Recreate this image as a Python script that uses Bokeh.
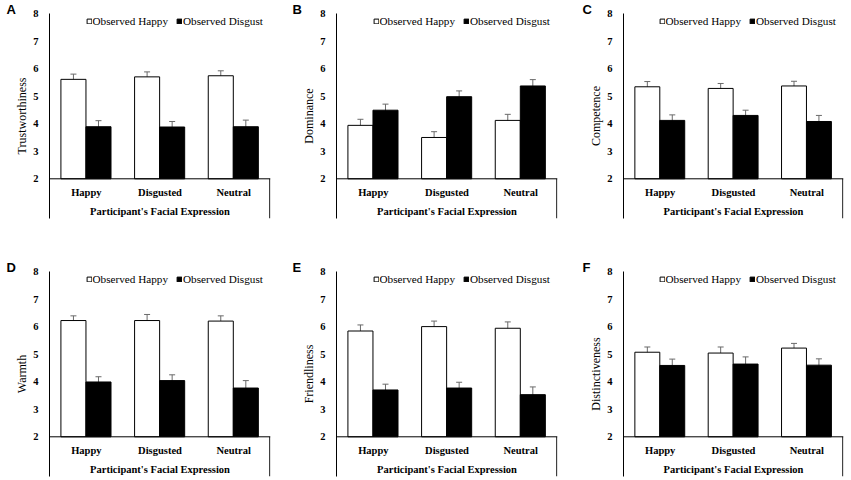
from bokeh.plotting import figure
from bokeh.models import (ColumnDataSource, FactorRange, Range1d, FixedTicker, Span,
                          Whisker, TeeHead, Legend, LegendItem, Title)
from bokeh.transform import dodge
from bokeh.layouts import row, column
from bokeh.embed import file_html
from bokeh.resources import INLINE
from bokeh.core.properties import value

# ---------------- data ----------------
categories = ["Happy", "Disgusted", "Neutral"]
series_names = ["Observed Happy", "Observed Disgust"]
x_title = "Participant's Facial Expression"
y_ticks = [2, 3, 4, 5, 6, 7, 8]
panel_letters = ["A", "B", "C", "D", "E", "F"]
y_titles = ["Trustworthiness", "Dominance", "Competence", "Warmth", "Friendliness", "Distinctiveness"]

trust_happy = [5.61, 5.70, 5.74]
trust_happy_err = [0.19, 0.18, 0.18]
trust_disgust = [3.89, 3.88, 3.89]
trust_disgust_err = [0.22, 0.20, 0.24]

dom_happy = [3.94, 3.50, 4.12]
dom_happy_err = [0.22, 0.21, 0.22]
dom_disgust = [4.49, 4.98, 5.37]
dom_disgust_err = [0.22, 0.21, 0.23]

comp_happy = [5.34, 5.28, 5.37]
comp_happy_err = [0.19, 0.18, 0.17]
comp_disgust = [4.12, 4.30, 4.08]
comp_disgust_err = [0.20, 0.19, 0.22]

warm_happy = [6.22, 6.22, 6.20]
warm_happy_err = [0.17, 0.22, 0.19]
warm_disgust = [3.99, 4.04, 3.77]
warm_disgust_err = [0.19, 0.21, 0.27]

friend_happy = [5.84, 6.00, 5.94]
friend_happy_err = [0.22, 0.20, 0.23]
friend_disgust = [3.70, 3.77, 3.53]
friend_disgust_err = [0.21, 0.21, 0.28]

dist_happy = [5.07, 5.04, 5.22]
dist_happy_err = [0.19, 0.22, 0.17]
dist_disgust = [4.59, 4.64, 4.60]
dist_disgust_err = [0.23, 0.26, 0.23]

panel_data = [
    (trust_happy, trust_happy_err, trust_disgust, trust_disgust_err),
    (dom_happy, dom_happy_err, dom_disgust, dom_disgust_err),
    (comp_happy, comp_happy_err, comp_disgust, comp_disgust_err),
    (warm_happy, warm_happy_err, warm_disgust, warm_disgust_err),
    (friend_happy, friend_happy_err, friend_disgust, friend_disgust_err),
    (dist_happy, dist_happy_err, dist_disgust, dist_disgust_err),
]

# ---------------- layout / style ----------------
SERIF = "Liberation Serif"
SANS = "Liberation Sans"
ERR_COLOR = "#6a6a6a"
FRAME_W = [221, 221, 220]
BORDER_L = [49, 46, 45]
BORDER_R = [20, 21, 8]
LEG_X = [36.5, 36.5, 35.5]
LETTER_OFF = [-43, -44, -41]
FRAME_H = 205
BORDER_T = [13, 31]
BORDER_B = [22, 4]
Y_START = 0.559


def make_panel(i):
    col = i % 3
    rw = i // 3
    bt = BORDER_T[rw]
    bb = BORDER_B[rw]
    h, he, d, de = panel_data[i]
    p = figure(x_range=FactorRange(factors=categories), y_range=Range1d(Y_START, y_ticks[-1]),
               width=BORDER_L[col] + FRAME_W[col] + BORDER_R[col], height=bt + FRAME_H + bb,
               min_border_left=BORDER_L[col], min_border_right=BORDER_R[col],
               min_border_top=bt, min_border_bottom=bb,
               x_axis_location=None, toolbar_location=None, tools="",
               output_backend="svg")
    p.title = Title(text=panel_letters[i], align="left", offset=LETTER_OFF[col], standoff=-7,
                    vertical_align="bottom", text_font=SANS, text_font_style="bold",
                    text_font_size="13px", text_color="black")
    p.xgrid.visible = False
    p.ygrid.visible = False
    p.outline_line_color = None
    p.background_fill_color = "white"
    p.border_fill_color = "white"

    ax = p.yaxis[0]
    ax.ticker = FixedTicker(ticks=y_ticks)
    ax.major_tick_line_color = None
    ax.minor_tick_line_color = None
    ax.major_tick_out = 0
    ax.major_tick_in = 0
    ax.axis_line_color = "black"
    ax.axis_line_width = 1
    ax.major_label_text_font = SERIF
    ax.major_label_text_font_style = "bold"
    ax.major_label_text_font_size = "10.5px"
    ax.major_label_text_color = "black"
    ax.major_label_standoff = 11
    ax.axis_label = y_titles[i]
    ax.axis_label_text_font = SERIF
    ax.axis_label_text_font_style = "normal"
    ax.axis_label_text_font_size = "12px"
    ax.axis_label_text_color = "black"
    ax.axis_label_standoff = 1

    src = ColumnDataSource(dict(
        cat=categories,
        happy=h, happy_lo=[v - e for v, e in zip(h, he)], happy_hi=[v + e for v, e in zip(h, he)],
        disgust=d, disgust_lo=[v - e for v, e in zip(d, de)], disgust_hi=[v + e for v, e in zip(d, de)],
    ))

    r_h = p.vbar(x=dodge("cat", -0.175, range=p.x_range), top="happy", bottom=y_ticks[0], width=0.34,
                 fill_color="white", line_color="black", line_width=1, source=src)
    r_d = p.vbar(x=dodge("cat", 0.165, range=p.x_range), top="disgust", bottom=y_ticks[0], width=0.34,
                 fill_color="black", line_color="black", line_width=1, source=src)

    for off, lo, hi in [(-0.175, "happy_lo", "happy_hi"), (0.165, "disgust_lo", "disgust_hi")]:
        w = Whisker(source=src, base=dodge("cat", off, range=p.x_range), lower=lo, upper=hi,
                    line_color=ERR_COLOR, line_width=1,
                    lower_head=TeeHead(size=6, line_color=ERR_COLOR, line_width=1),
                    upper_head=TeeHead(size=6, line_color=ERR_COLOR, line_width=1))
        p.add_layout(w)

    # category axis box
    p.add_layout(Span(location=y_ticks[0], dimension="width", line_color="black", line_width=1))
    p.segment(x0=[len(categories) - 0.01], x1=[len(categories) - 0.01], y0=[y_ticks[0]], y1=[Y_START],
              line_color="black", line_width=1)

    p.text(x=categories, y=[1.51] * len(categories), text=categories,
           text_font=value(SERIF), text_font_style="bold", text_font_size="10.5px",
           text_align="center", text_baseline="middle", text_color="black")
    p.text(x=[categories[len(categories) // 2]], y=[0.795], text=[x_title],
           text_font=value(SERIF), text_font_style="bold", text_font_size="10.5px",
           text_align="center", text_baseline="middle", text_color="black")

    legend = Legend(items=[LegendItem(label=series_names[0], renderers=[r_h]),
                           LegendItem(label=series_names[1], renderers=[r_d])],
                    orientation="horizontal", location=(LEG_X[col], FRAME_H - 1.7 - 12),
                    glyph_width=6, glyph_height=6, label_standoff=1, spacing=8,
                    padding=0, margin=0, border_line_color=None, background_fill_alpha=0,
                    label_text_font=SERIF, label_text_font_size="11.2px", label_height=12,
                    label_text_color="black")
    p.add_layout(legend)
    return p


figs = [make_panel(i) for i in range(6)]
layout = column(row(*figs[0:3]), row(*figs[3:6]))
open("out.html", "w").write(file_html(layout, INLINE))
